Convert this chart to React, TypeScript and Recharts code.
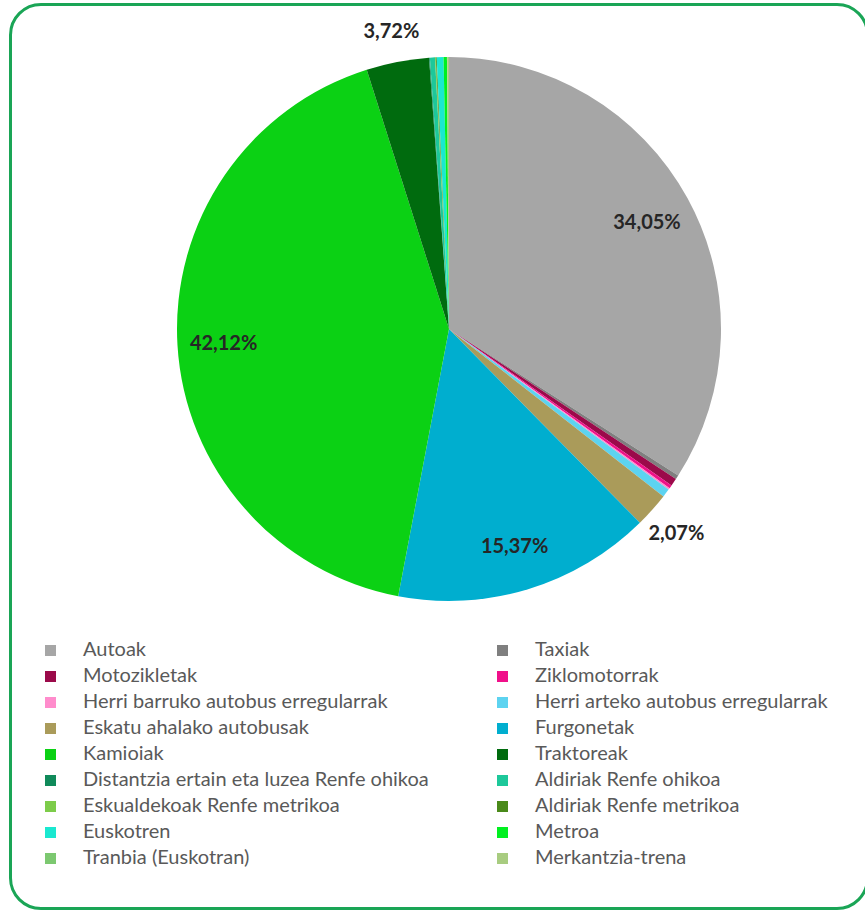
import React from "react";
import { PieChart, Pie, Cell, Legend } from "recharts";

const categories = [
  "Autoak",
  "Taxiak",
  "Motozikletak",
  "Ziklomotorrak",
  "Herri barruko autobus erregularrak",
  "Herri arteko autobus erregularrak",
  "Eskatu ahalako autobusak",
  "Furgonetak",
  "Kamioiak",
  "Traktoreak",
  "Distantzia ertain eta luzea Renfe ohikoa",
  "Aldiriak Renfe ohikoa",
  "Eskualdekoak Renfe metrikoa",
  "Aldiriak Renfe metrikoa",
  "Euskotren",
  "Metroa",
  "Tranbia (Euskotran)",
  "Merkantzia-trena",
];

// % shares, estimated for the tiny slices
const shares = [
  34.05, 0.25, 0.45, 0.2, 0.1, 0.5, 2.07, 15.37, 42.12, 3.72, 0.05, 0.3, 0.05,
  0.05, 0.4, 0.2, 0.02, 0.1,
];

const colors = [
  "#a6a6a6",
  "#7f7f7f",
  "#9b0a4a",
  "#f0108a",
  "#ff8ccc",
  "#5dd3f0",
  "#aa9b5a",
  "#00aecf",
  "#0bd114",
  "#006b0e",
  "#108a5a",
  "#1dc89a",
  "#7dcc4a",
  "#4a8a1a",
  "#1ae8d0",
  "#00f020",
  "#7cc870",
  "#a8cc80",
];

const data = categories.map((name, i) => ({ name, value: shares[i] }));

const RAD = Math.PI / 180;

const renderLabel = (props: any) => {
  const { cx, cy, midAngle, outerRadius, value } = props;
  if (value < 2) return null;
  const r = value > 10 ? outerRadius * 0.83 : outerRadius * 1.12;
  const x = cx + r * Math.cos(-midAngle * RAD);
  const y = cy + r * Math.sin(-midAngle * RAD);
  return (
    <text
      x={x}
      y={y}
      fill="#262626"
      fontSize={20}
      fontWeight={700}
      fontFamily="Lato, sans-serif"
      textAnchor="middle"
      dominantBaseline="central"
    >
      {value.toFixed(2).replace(".", ",") + "%"}
    </text>
  );
};

const renderLegend = () => (
  <div
    style={{
      display: "grid",
      gridTemplateColumns: "452px 400px",
      fontFamily: "Lato, sans-serif",
      fontSize: 20,
      color: "#595959",
    }}
  >
    {data.map((d, i) => (
      <div
        key={d.name}
        style={{
          display: "flex",
          alignItems: "center",
          height: 26,
          paddingLeft: 45,
        }}
      >
        <span
          style={{
            width: 11,
            height: 11,
            background: colors[i],
            marginRight: 27,
            marginTop: 4,
            flexShrink: 0,
          }}
        />
        <span>{d.name}</span>
      </div>
    ))}
  </div>
);

export default function App() {
  return (
    <div
      style={{
        position: "absolute",
        left: 0,
        top: 0,
        width: 865,
        height: 912,
        background: "#fff",
        overflow: "hidden",
      }}
    >
      <div
        style={{
          position: "absolute",
          left: 9,
          top: 3,
          width: 860,
          height: 907,
          border: "3px solid #1aa556",
          borderRadius: 32,
          boxSizing: "border-box",
        }}
      />
      <PieChart
        width={865}
        height={912}
        margin={{ top: 0, right: 0, bottom: 0, left: 0 }}
        style={{ position: "absolute", left: 0, top: 0 }}
      >
        <Pie
          data={data}
          dataKey="value"
          nameKey="name"
          cx={449}
          cy={329}
          outerRadius={272}
          startAngle={90}
          endAngle={-270}
          stroke="none"
          label={renderLabel}
          labelLine={false}
          isAnimationActive={false}
        >
          {data.map((d, i) => (
            <Cell key={d.name} fill={colors[i]} />
          ))}
        </Pie>
        <Legend
          content={renderLegend}
          wrapperStyle={{ left: 0, top: 635, width: 865 }}
        />
      </PieChart>
    </div>
  );
}
